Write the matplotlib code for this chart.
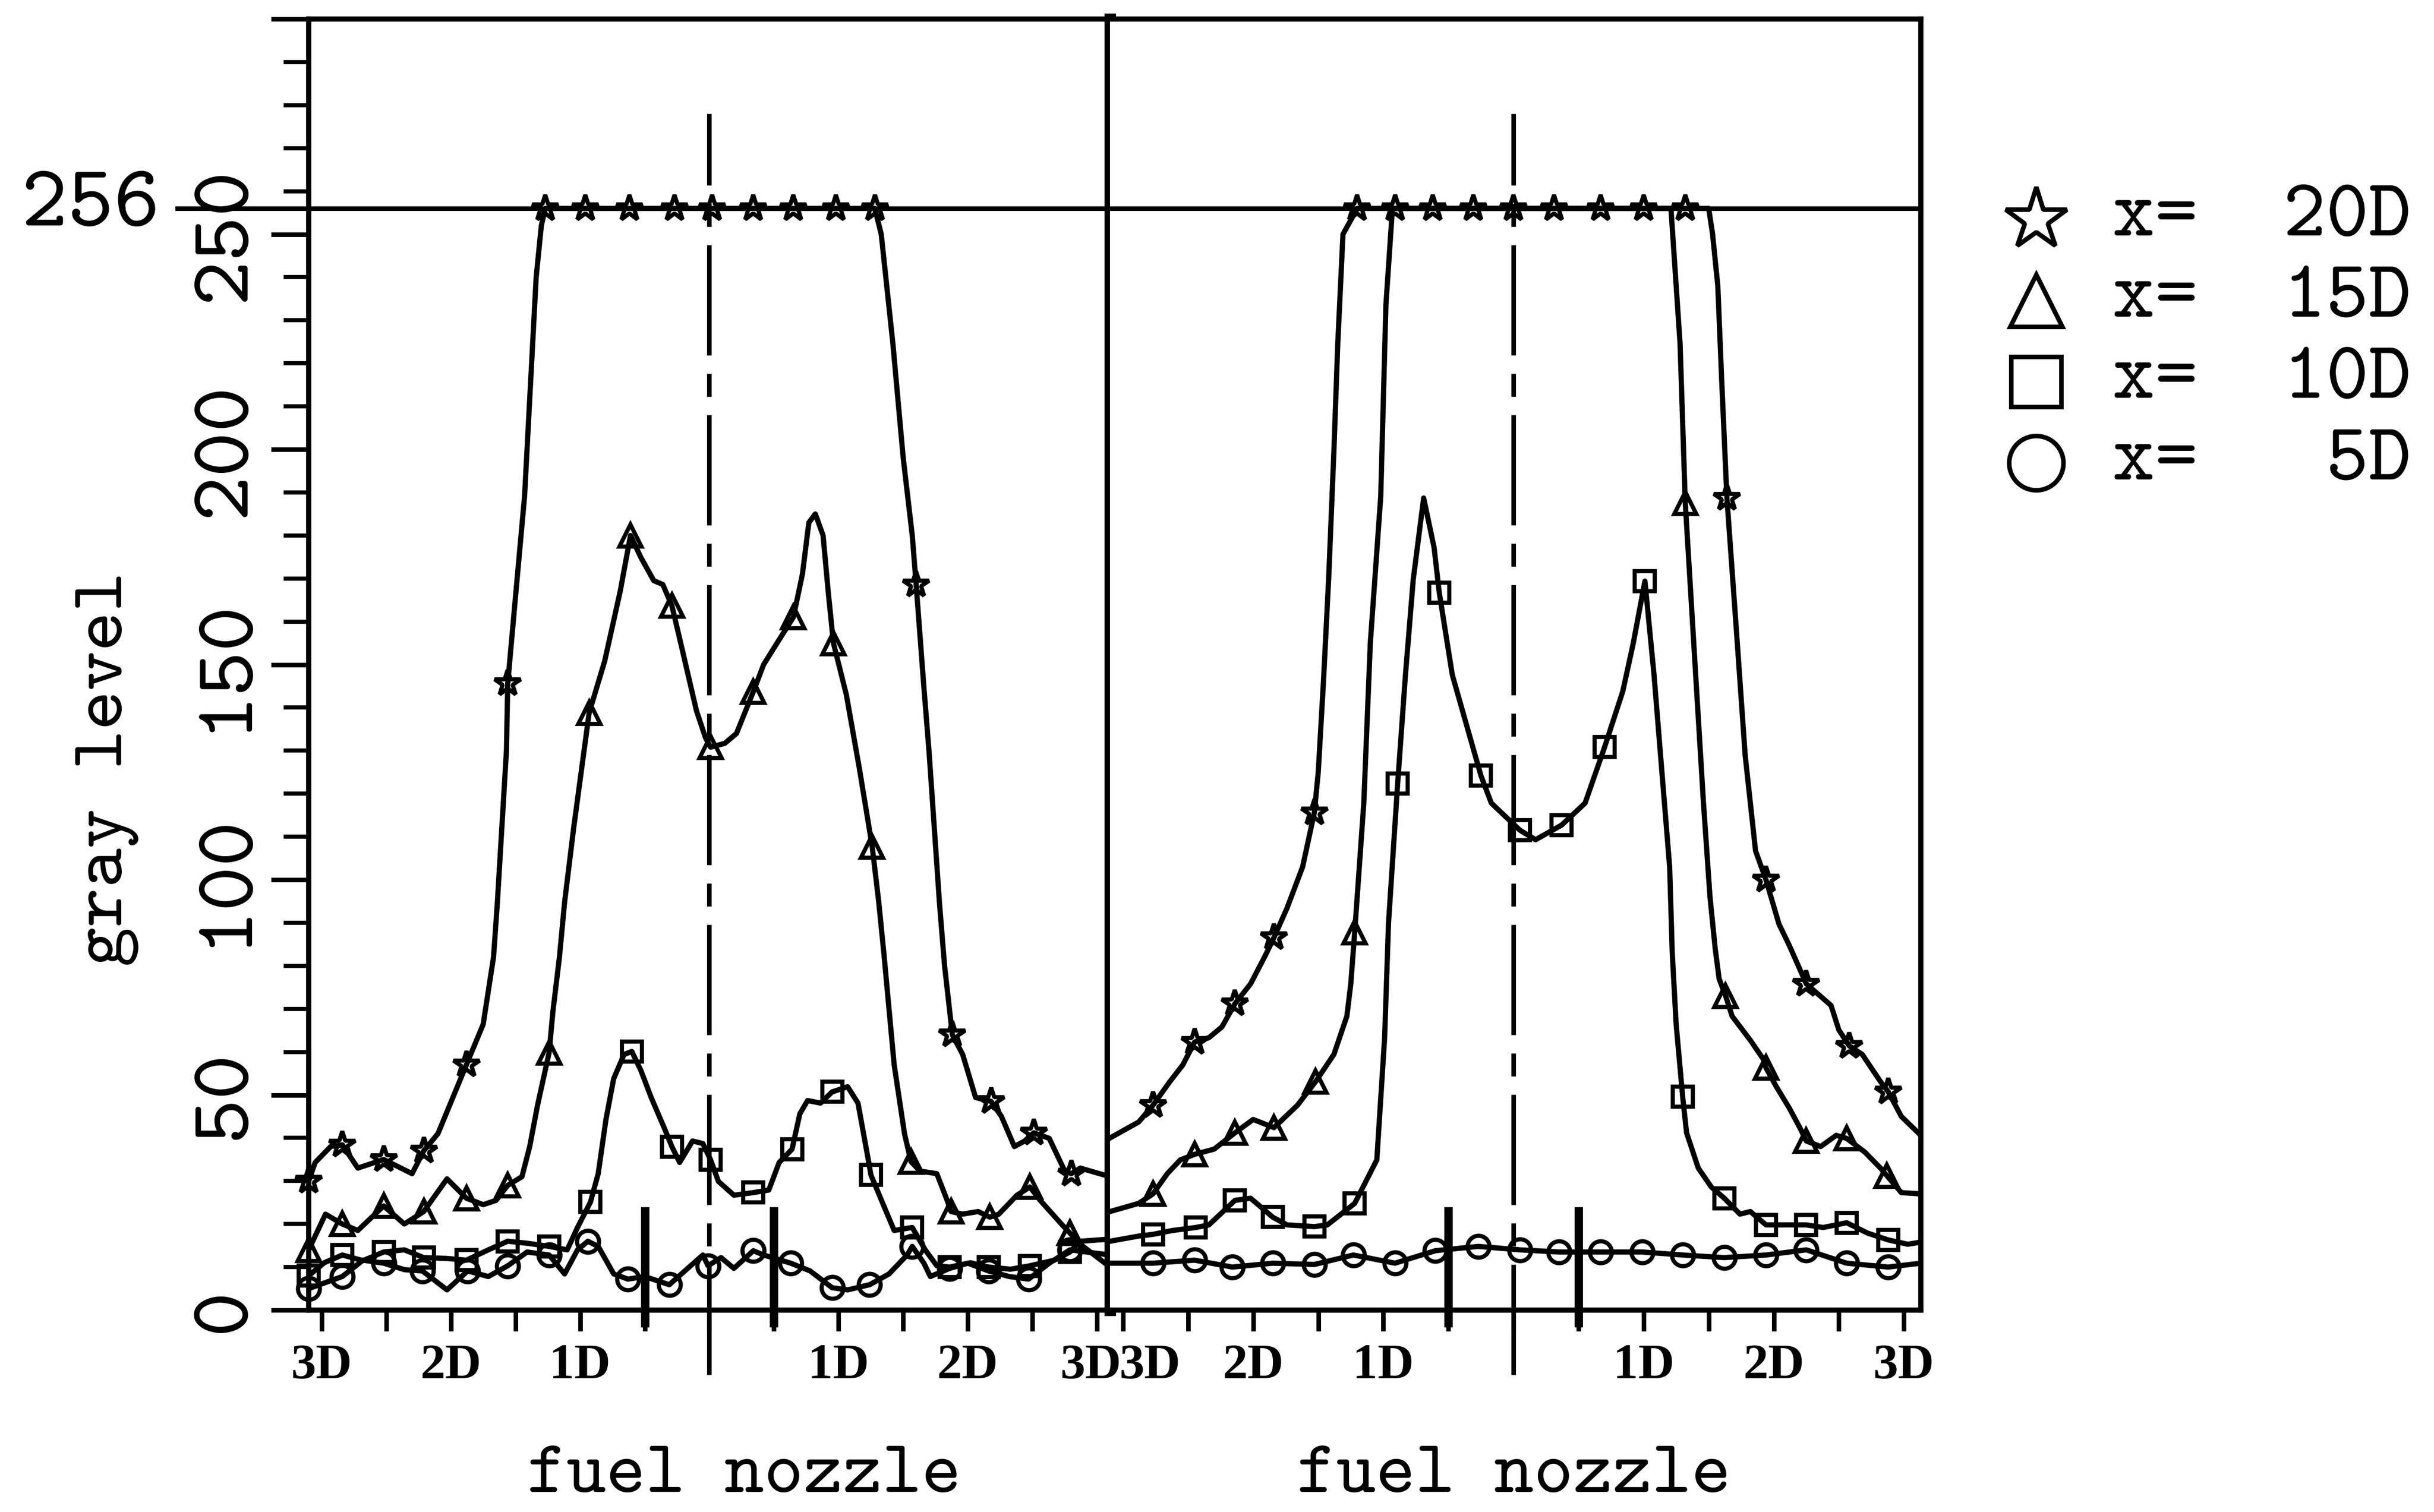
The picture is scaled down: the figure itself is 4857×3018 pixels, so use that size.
import numpy as np
import matplotlib
matplotlib.use("Agg")
import matplotlib.pyplot as plt
import matplotlib.transforms as mtransforms
from matplotlib.lines import Line2D
from matplotlib.ticker import FixedLocator, MultipleLocator

# Legend text and marker per series (x = distance downstream)
SERIES = ["x=  20D", "x=  15D", "x=  10D", "x=   5D"]
MARKERS = ["*", "^", "s", "o"]

# ---------------- left panel ----------------
# stars, x = 20D (markers + extra points along the smooth curve)
L_STAR_MX = [-3.10, -2.84, -2.52, -2.21, -1.88, -1.56, -1.27, -0.96, -0.62, -0.27,
             0.02, 0.34, 0.65, 0.98, 1.28, 1.60, 1.88, 2.18, 2.51, 2.80]
L_STAR_MY = [30, 38.4, 35, 37, 57, 145.6, 256, 256, 256, 256,
             256, 256, 256, 256, 256, 168.6, 64, 48.5, 41.2, 31.7]
L_STAR_CX = [-3.05, -2.93, -2.72, -2.30, -2.10, -1.75, -1.67, -1.64, -1.57, -1.51,
             -1.43, -1.34, -1.30, 1.33, 1.42, 1.50, 1.57, 1.66, 1.70, 1.78,
             1.82, 1.96, 2.06, 2.26, 2.36, 2.44, 2.63, 2.75, 2.87, 3.10]
L_STAR_CY = [34.3, 38, 33, 31.7, 41, 66.4, 82, 94.8, 130, 162.4,
             189, 240, 252, 250, 224.6, 198, 180, 144.7, 129.7, 94.8,
             80, 59.4, 49.4, 45, 38, 39.3, 39.9, 32.3, 33, 31]

# triangles, x = 15D
L_TRI_MX = [-3.10, -2.84, -2.52, -2.21, -1.88, -1.56, -1.24, -0.93, -0.61, -0.29,
            0.01, 0.34, 0.65, 0.96, 1.26, 1.56, 1.87, 2.17, 2.48, 2.79]
L_TRI_MY = [14, 20, 24.2, 22.9, 26, 29, 59.8, 138.8, 180, 163.7,
            130.8, 143.7, 161, 155, 107.7, 34.5, 22.9, 21.6, 28.6, 17.9]
L_TRI_CX = [-2.97, -2.72, -2.36, -2.03, -1.75, -1.65, -1.45, -1.39, -1.33, -1.21,
            -1.16, -1.12, -1.05, -0.81, -0.69, -0.53, -0.43, -0.36, -0.21, -0.10,
            -0.03, 0.12, 0.21, 0.42, 0.53, 0.72, 0.77, 0.82, 0.88, 0.92,
            1.06, 1.16, 1.31, 1.35, 1.43, 1.51, 1.63, 1.76, 1.84, 1.96,
            2.08, 2.24, 2.38, 2.56, 2.73, 2.87, 3.10]
L_TRI_CY = [22.3, 18.5, 20, 30.5, 24.5, 25.5, 31, 38, 47.5, 69.5,
            82, 94.8, 112, 150.8, 167, 174.9, 169.5, 168.6, 153.5, 139.3,
            133, 131.7, 134, 150, 155.3, 171, 183, 185, 180, 166.8,
            143, 126, 95, 83, 57, 41, 32.3, 31.7, 25.5, 22.3,
            22.9, 22.3, 26.7, 25.5, 19.8, 15.3, 10]

# squares, x = 10D
L_SQ_MX = [-3.10, -2.84, -2.52, -2.21, -1.88, -1.56, -1.24, -0.92, -0.60, -0.29,
           0.01, 0.34, 0.64, 0.95, 1.25, 1.57, 1.86, 2.16, 2.48, 2.79]
L_SQ_MY = [8, 12.8, 13.5, 12.2, 11.6, 16, 14.8, 25.1, 60.1, 38,
           34.9, 27.3, 37.4, 50.7, 31.4, 19.2, 10, 10, 10.3, 13.5]
L_SQ_CX = [-2.98, -2.68, -2.36, -2.03, -1.71, -1.40, -1.10, -1.02, -0.86, -0.80,
           -0.74, -0.66, -0.53, -0.45, -0.35, -0.23, -0.13, -0.05, 0.07, 0.19,
           0.46, 0.54, 0.70, 0.76, 0.86, 1.07, 1.15, 1.23, 1.35, 1.43,
           1.67, 1.76, 2.02, 2.33, 2.67, 2.87, 3.10]
L_SQ_CY = [11, 11.5, 14, 12, 14, 15.5, 14, 19.2, 31.7, 44.3,
           53.8, 59.4, 55.7, 49.4, 42.4, 34.3, 39.3, 38.7, 29.9, 26.7,
           27.9, 34.3, 45.6, 48.7, 48.1, 51.9, 48.1, 34.9, 24.2, 18.5,
           14, 10.3, 11, 9.5, 11.6, 16, 16.5]

# circles, x = 5D
L_CIR_MX = [-3.10, -2.84, -2.52, -2.22, -1.87, -1.56, -1.24, -0.94, -0.63, -0.31,
            -0.01, 0.34, 0.63, 0.95, 1.24, 1.57, 1.86, 2.16, 2.47, 2.79]
L_CIR_MY = [5, 7.8, 10.9, 9.1, 9.1, 10.3, 12.8, 16, 7.2, 5.9,
            10.3, 13.8, 10.9, 5.2, 5.9, 14.8, 9.7, 9.1, 7.2, 14]
L_CIR_CX = [-2.68, -2.36, -2.03, -1.71, -1.41, -1.12, -1.02, -0.86, -0.74, -0.50,
            -0.19, -0.05, 0.09, 0.19, 0.42, 0.78, 1.07, 1.39, 1.53, 1.66,
            1.71, 2.00, 2.32, 2.63, 3.10]
L_CIR_CY = [11.6, 9.4, 4.7, 7.8, 13.5, 8.4, 14, 14.8, 8.4, 7.8,
            9.1, 12.8, 12.2, 9.7, 12.8, 9.1, 4.7, 8.4, 12.8, 10.9,
            7.8, 10.9, 7.8, 10.9, 12.8]

# ---------------- right panel ----------------
R_STAR_MX = [-2.77, -2.45, -2.14, -1.84, -1.53, -1.20, -0.91, -0.62, -0.31, 0.00,
             0.31, 0.67, 1.00, 1.32, 1.64, 1.94, 2.25, 2.58, 2.88]
R_STAR_MY = [47.6, 62.3, 71.2, 86.6, 115.6, 256, 256, 256, 256, 256,
             256, 256, 256, 256, 188.7, 100, 75.8, 61.4, 50.7]
R_STAR_CX = [-3.10, -2.88, -2.64, -2.54, -2.34, -2.24, -2.02, -1.90, -1.74, -1.62,
             -1.50, -1.46, -1.42, -1.38, -1.35, -1.31, 1.50, 1.53, 1.57, 1.60,
             1.72, 1.78, 1.86, 2.04, 2.12, 2.44, 2.50, 2.68, 2.82, 2.98, 3.13]
R_STAR_CY = [40, 43.7, 53.1, 57, 63.3, 65.8, 75.8, 82.8, 93.4, 103,
             125, 146, 170, 199.4, 224.6, 250, 256, 250, 238, 216,
             154.9, 129, 106.7, 89.7, 84.7, 70.8, 65.1, 59.4, 53.1, 45, 40.6]

R_TRI_MX = [-2.77, -2.45, -2.14, -1.84, -1.52, -1.22, 1.32, 1.63, 1.94, 2.25, 2.56, 2.87]
R_TRI_MY = [27, 36.2, 41.2, 42.4, 53.1, 87.8, 187.6, 73, 56.3, 39.3, 39.9, 31.2]
R_TRI_CX = [-3.10, -2.88, -2.66, -2.56, -2.30, -2.00, -1.66, -1.38, -1.28, -1.25,
            -1.15, -1.10, -1.02, -0.98, -0.93, 1.21, 1.28, 1.40, 1.46, 1.51,
            1.55, 1.58, 1.68, 1.82, 1.92, 2.02, 2.12, 2.20, 2.36, 2.48,
            2.70, 2.82, 2.98, 3.13]
R_TRI_CY = [22.9, 24.8, 31.7, 34.9, 37.4, 44.3, 47.6, 59.4, 68.3, 75.8,
            117.8, 155, 189, 233.6, 256, 256, 224.6, 147.6, 117.8, 96,
            84, 77, 68.3, 62.7, 58.3, 51.9, 46.9, 42.4, 38, 40.6,
            36.7, 33, 27.3, 27]

R_SQ_MX = [-2.77, -2.44, -2.14, -1.85, -1.53, -1.22, -0.89, -0.57, -0.25, 0.05,
           0.37, 0.70, 1.01, 1.30, 1.62, 1.94, 2.25, 2.56, 2.88]
R_SQ_MY = [17.6, 19.2, 25.5, 21.6, 19.4, 24.8, 122.3, 166.7, 124.2, 111.5,
           112.7, 130.8, 169.4, 49.6, 26, 19.8, 19.8, 20.3, 16.3]
R_SQ_CX = [-3.10, -2.88, -2.62, -2.34, -2.02, -1.74, -1.43, -1.05, -0.99, -0.96,
           -0.83, -0.77, -0.69, -0.61, -0.47, -0.33, -0.17, 0.17, 0.55, 0.84,
           0.92, 1.08, 1.14, 1.20, 1.22, 1.25, 1.33, 1.42, 1.52, 1.74,
           1.82, 2.12, 2.38, 2.72, 3.03, 3.13]
R_SQ_CY = [16, 17.2, 18.5, 19.8, 26, 19.8, 19.8, 34.9, 63.3, 90,
           147.6, 169.8, 188.7, 177.2, 147.6, 132.7, 117.8, 109.3, 117.8, 143.8,
           154.9, 147.6, 125.2, 103, 83, 66.4, 41.2, 33, 28.6, 22.3,
           22.9, 19.8, 19.2, 17.9, 15.3, 15.8]

R_CIR_MX = [-2.77, -2.45, -2.16, -1.85, -1.53, -1.23, -0.91, -0.60, -0.27, 0.05,
            0.35, 0.67, 0.99, 1.30, 1.62, 1.94, 2.25, 2.56, 2.88]
R_CIR_MY = [10.9, 11.6, 10, 10.9, 10.6, 12.8, 10.9, 13.8, 14.8, 14,
            13.5, 13.5, 13.5, 12.8, 12.2, 12.8, 14, 10.9, 10]
R_CIR_CX = [-3.10, 3.13]
R_CIR_CY = [10.9, 10.9]

# axis ticks / reference marks
X_TICKS = [-3, -2.5, -2, -1.5, -1, -0.5, 0, 0.5, 1, 1.5, 2, 2.5, 3]
X_TICK_LABELS = {-3: "3D", -2: "2D", -1: "1D", 1: "1D", 2: "2D", 3: "3D"}
Y_TICKS = [0, 50, 100, 150, 200, 250, 300]
Y_TICK_LABELS = ["0", "50", "100", "150", "200", "250", ""]
SATURATION = 256
NOZZLE_X = [-0.5, 0.5]
NOZZLE_Y = [-4, 24]
CENTER_Y = [-15, 278]

MONO = ["cmtt10", "DejaVu Sans Mono"]
plt.rcParams["font.family"] = MONO
plt.rcParams["axes.unicode_minus"] = False

W, H = 4858, 3018
fig = plt.figure(figsize=(W / 300, H / 300), dpi=300)

def frac(x0, x1):
    return [x0 / W, 1 - 2615 / H, (x1 - x0) / W, (2615 - 38) / H]

ax_l = fig.add_axes(frac(616, 2215))
ax_r = fig.add_axes(frac(2215, 3833))

def draw_curve(ax, mx, my, cx, cy, marker, ms):
    x = np.array(mx + cx)
    y = np.array(my + cy)
    order = np.argsort(x)
    ax.plot(x[order], y[order], color="black", lw=2.5)
    ax.plot(mx, my, ls="none", marker=marker, ms=ms, mfc="none",
            mec="black", mew=2.0, clip_on=False)

left_data = [(L_STAR_MX, L_STAR_MY, L_STAR_CX, L_STAR_CY),
             (L_TRI_MX, L_TRI_MY, L_TRI_CX, L_TRI_CY),
             (L_SQ_MX, L_SQ_MY, L_SQ_CX, L_SQ_CY),
             (L_CIR_MX, L_CIR_MY, L_CIR_CX, L_CIR_CY)]
right_data = [(R_STAR_MX, R_STAR_MY, R_STAR_CX, R_STAR_CY),
              (R_TRI_MX, R_TRI_MY, R_TRI_CX, R_TRI_CY),
              (R_SQ_MX, R_SQ_MY, R_SQ_CX, R_SQ_CY),
              (R_CIR_MX, R_CIR_MY, R_CIR_CX, R_CIR_CY)]
plot_ms = [13, 10.5, 9.5, 10.5]

for ax, data, xlim in [(ax_l, left_data, (-3.1, 3.1)), (ax_r, right_data, (-3.1, 3.13))]:
    for (mx, my, cx, cy), mk, ms in zip(data, MARKERS, plot_ms):
        draw_curve(ax, mx, my, cx, cy, mk, ms)
    ax.set_xlim(*xlim)
    ax.set_ylim(0, 300)

    # nozzle edges and centre line
    for nx in NOZZLE_X:
        ax.plot([nx, nx], NOZZLE_Y, color="black", lw=4.0, clip_on=False,
                solid_capstyle="butt")
    ax.plot([0, 0], CENTER_Y, color="black", lw=2.2, clip_on=False,
            dashes=(24, 4, 5, 4))

    ax.set_xticks(X_TICKS)
    ax.set_xticklabels([X_TICK_LABELS.get(t, "") for t in X_TICKS],
                       family="Liberation Serif", fontweight="bold", fontsize=24)
    ax.tick_params(axis="x", direction="out", length=10, width=2.2, pad=6)
    for s in ax.spines.values():
        s.set_linewidth(2.5)

# saturation line at 256
ax_l.axhline(SATURATION, xmin=-0.164, xmax=1, color="black", lw=2.2, clip_on=False)
ax_r.axhline(SATURATION, color="black", lw=2.2)
ax_l.text(-0.186, SATURATION, str(SATURATION),
          transform=mtransforms.blended_transform_factory(ax_l.transAxes, ax_l.transData),
          ha="right", va="center", fontsize=42)

# y axis on the left panel only
ax_l.yaxis.set_major_locator(FixedLocator(Y_TICKS))
ax_l.set_yticklabels(Y_TICK_LABELS, rotation=90, va="center", fontsize=41)
ax_l.yaxis.set_minor_locator(MultipleLocator(10))
ax_l.tick_params(axis="y", which="major", direction="out", length=18, width=2.2, pad=4)
ax_l.tick_params(axis="y", which="minor", direction="out", length=12, width=2.0)
ax_l.spines["right"].set_linewidth(5.5)
ax_r.spines["left"].set_visible(False)
ax_r.tick_params(axis="y", which="both", left=False, labelleft=False)

# the two "3D" labels meeting at the divider sit side by side
for lbl, dx in [(ax_l.get_xticklabels()[-1], -3), (ax_r.get_xticklabels()[0], 13)]:
    lbl.set_transform(lbl.get_transform()
                      + mtransforms.ScaledTranslation(dx / 72, 0, fig.dpi_scale_trans))

fig.text(214 / W, 1 - 1535 / H, "gray level", rotation=90, ha="center",
         va="center", fontsize=36)
fig.text(1485 / W, 1 - 2978 / H, "fuel nozzle", ha="center", va="baseline", fontsize=36)
fig.text(3021 / W, 1 - 2978 / H, "fuel nozzle", ha="center", va="baseline", fontsize=36)

# legend drawn by hand: marker column and text column
legend_ms = [31, 25, 24, 26]
for i, (name, mk, ms) in enumerate(zip(SERIES, MARKERS, legend_ms)):
    yc = 1 - (438 + i * 162) / H
    fig.add_artist(Line2D([4063 / W], [yc], transform=fig.transFigure, marker=mk,
                          ms=ms, mfc="none", mec="black", mew=2.2, ls="none"))
    fig.text(4215 / W, yc, name, ha="left", va="center", fontsize=39)

fig.savefig("out.png", dpi=300)
